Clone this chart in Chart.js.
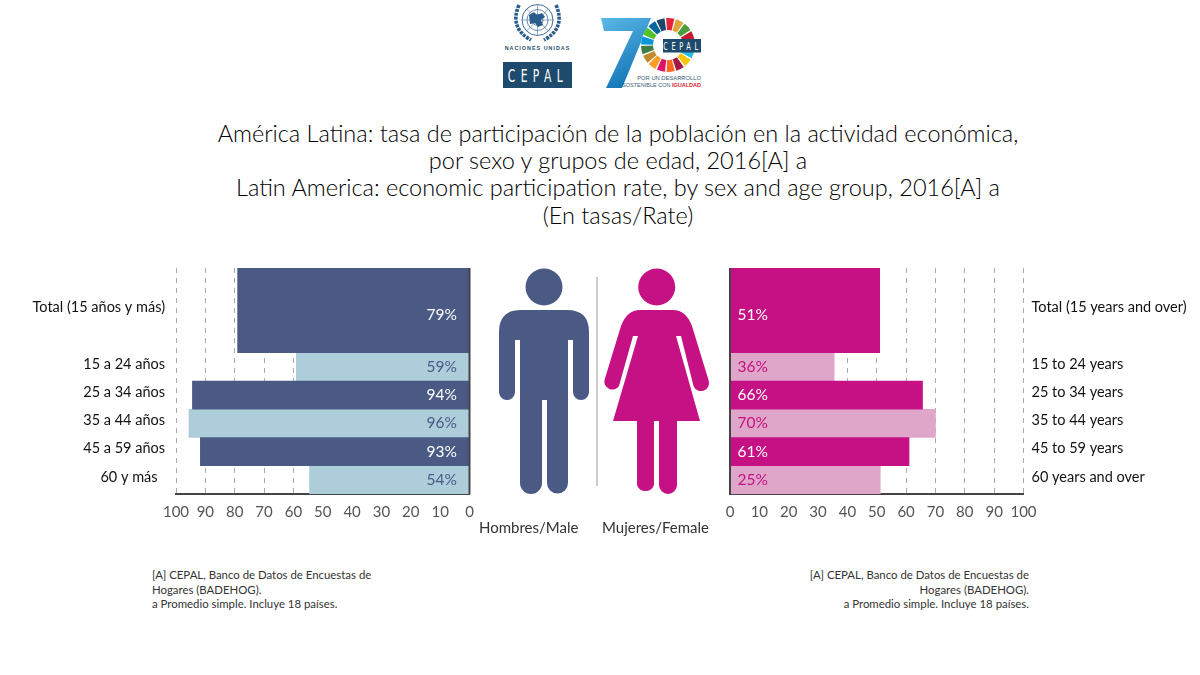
<!DOCTYPE html>
<html>
<head>
<meta charset="utf-8">
<script src="https://cdn.jsdelivr.net/npm/chart.js@4"></script>
<style>
html, body { margin: 0; width: 1200px; height: 675px; overflow: hidden; background: #fff; font-family: Lato, sans-serif; }
.box { position: absolute; }
#title { left: 0; top: 120px; width: 1236px; text-align: center; font-size: 23.5px; font-weight: 300; line-height: 27.2px; color: #000; }
.note { font-size: 11.4px; line-height: 14.5px; color: #333; white-space: pre; }
.sex { font-size: 15px; color: #333; top: 518px; }
svg { position: absolute; left: 0; top: 0; }
</style>
</head>
<body>

<svg id="art" width="1200" height="675" viewBox="0 0 1200 675">
  <!-- UN emblem -->
  <g fill="none" stroke="#2b5d8c">
    <circle cx="537.5" cy="20" r="15.5" stroke-width="0.9"/>
    <circle cx="537.5" cy="20" r="10.5" stroke-width="0.7"/>
    <circle cx="537.5" cy="20" r="5.5" stroke-width="0.7"/>
    <path d="M537.5 4.5V35.5M522 20H553M526.5 9L548.5 31M548.5 9L526.5 31" stroke-width="0.5"/>
    <path d="M519 5Q509 28 531 40M556 5Q566 28 544 40" stroke-width="3.6" stroke-dasharray="3 1"/>
  </g>
  <path d="M529 15l5-3 3 3 5-2 3 4-4 3 2 5-5 2-3-4-5 1z" fill="#2b5d8c"/>
  <text x="537.5" y="50" text-anchor="middle" font-size="5.4" font-weight="700" letter-spacing="1" fill="#29506f" font-family="Liberation Sans">NACIONES UNIDAS</text>
  <rect x="503" y="62" width="69" height="26" fill="#1d4a6d"/>
  <text transform="translate(538,81.5) scale(0.6,1)" text-anchor="middle" font-size="18" letter-spacing="9" fill="#fff" font-family="DejaVu Sans">CEPAL</text>

  <!-- 70 logo -->
  <defs>
    <linearGradient id="seven" x1="0" y1="0" x2="0.4" y2="1">
      <stop offset="0" stop-color="#5cb8e6"/>
      <stop offset="1" stop-color="#1477b8"/>
    </linearGradient>
  </defs>
  <path d="M601 18H651L622 88H606L633 31H604Z" fill="url(#seven)"/>
  <circle cx="668" cy="45" r="27" fill="#fff"/>
  <g id="wheel"></g>
  <rect x="663" y="39" width="38" height="13.5" fill="#1d4a6d"/>
  <text transform="translate(682.5,50) scale(0.6,1)" text-anchor="middle" font-size="11" letter-spacing="6" fill="#fff" font-family="DejaVu Sans">CEPAL</text>
  <text x="701" y="80" text-anchor="end" font-size="5.8" fill="#3d5c78" font-family="Liberation Sans">POR UN DESARROLLO</text>
  <text x="701" y="87" text-anchor="end" font-size="5.5" fill="#3d5c78" font-family="Liberation Sans">SOSTENIBLE CON <tspan fill="#d8232a" font-weight="700">IGUALDAD</tspan></text>

  <!-- Pictograms -->
  <g fill="#4a5a85">
    <circle cx="544" cy="287" r="18.5"/>
    <path d="M521 310H567Q589 310 589 332V392A8 8 0 0 1 573 392V340H568V483A10.5 10.5 0 0 1 547 483V400H542V483A10.5 10.5 0 0 1 520 483V340H515V392A8 8 0 0 1 499 392V332Q499 310 521 310Z"/>
  </g>
  <line x1="597" y1="277" x2="597" y2="486" stroke="#999" stroke-width="1"/>
  <g fill="#c51183">
    <circle cx="656.7" cy="287" r="18.5"/>
    <path d="M640 310H673Q686 310 692 326L708.5 380A8 8 0 0 1 693.5 386L681 336H676L700 421H677V485A9 9 0 0 1 659 485V421H654V485A9 9 0 0 1 637 485V421H613L638 336H633L619 386A8 8 0 0 1 604.5 380L621 326Q627 310 640 310Z"/>
  </g>
</svg>

<div class="box" id="title">América Latina: tasa de participación de la población en la actividad económica,<br>por sexo y grupos de edad, 2016[A] a<br>Latin America: economic participation rate, by sex and age group, 2016[A] a<br>(En tasas/Rate)</div>

<div class="box" style="left:0;top:250px;width:490px;height:280px"><canvas id="menChart" width="490" height="280"></canvas></div>
<div class="box" style="left:700px;top:250px;width:500px;height:280px"><canvas id="womenChart" width="500" height="280"></canvas></div>

<div class="box sex" style="left:479px">Hombres/Male</div>
<div class="box sex" style="left:602px">Mujeres/Female</div>

<div class="box note" style="left:152px;top:568px">[A] CEPAL, Banco de Datos de Encuestas de
Hogares (BADEHOG).
a Promedio simple. Incluye 18 países.</div>
<div class="box note" style="right:171px;top:568px;text-align:right">[A] CEPAL, Banco de Datos de Encuestas de
Hogares (BADEHOG).
a Promedio simple. Incluye 18 países.</div>

<script>
// ── Data ──
const groupsEs = ['Total (15 años y más)', '15 a 24 años', '25 a 34 años', '35 a 44 años', '45 a 59 años', '60 y más  '];
const groupsEn = ['Total (15 years and over)', '15 to 24 years', '25 to 34 years', '35 to 44 years', '45 to 59 years', '60 years and over'];
const menBars = [79, 59, 94.4, 95.6, 91.7, 54.5];
const womenBars = [51, 35.5, 65.6, 70, 61, 51.2];   // the last bar is drawn longer than its 25% label
const menLabels = ['79%', '59%', '94%', '96%', '93%', '54%'];
const womenLabels = ['51%', '36%', '66%', '70%', '61%', '25%'];
const axisTicks = [0, 10, 20, 30, 40, 50, 60, 70, 80, 90, 100];

const colors = {
  navy: '#4a5a85',
  sky: '#aecddb',
  magenta: '#c51183',
  pink: '#dfa6c9',
  grid: '#aaaaaa',
  axis: '#444444',
  text: '#111111',
  tick: '#555555',
};
const FONT = 'Lato, sans-serif';

// ── SDG wheel ──
const wheelColors = ['#e5243b', '#dda63a', '#4c9f38', '#c5192d', '#ff3a21', '#26bde2', '#fcc30b', '#a21942', '#fd6925', '#dd1367', '#fd9d24', '#bf8b2e', '#3f7e44', '#0a97d9', '#56c02b', '#00689d', '#19486a'];
const wheel = document.getElementById('wheel');
wheelColors.forEach((c, i) => {
  const step = 2 * Math.PI / wheelColors.length;
  const a0 = -Math.PI / 2 - 0.1 + i * step + 0.03;
  const a1 = a0 + step - 0.06;
  const pt = (r, a) => `${(668 + r * Math.cos(a)).toFixed(1)} ${(45 + r * Math.sin(a)).toFixed(1)}`;
  const p = document.createElementNS('http://www.w3.org/2000/svg', 'path');
  p.setAttribute('d', `M${pt(15, a0)}L${pt(27, a0)}A27 27 0 0 1 ${pt(27, a1)}L${pt(15, a1)}A15 15 0 0 0 ${pt(15, a0)}Z`);
  p.setAttribute('fill', c);
  wheel.appendChild(p);
});

// ── Rows: Total takes three slots, its label and bar on the middle one ──
const slots = groups => ['', groups[0], '', ...groups.slice(1)];
const pick = (values, keep) => slots(values.map((v, i) => keep(i) ? v : null)).map(v => v === '' ? null : v);

function buildDatasets(values, labels, dark, light, textOnLight) {
  const common = { categoryPercentage: 1, barPercentage: 1, grouped: false };
  return [
    { ...common, data: pick(values, i => i === 0), valueLabels: slots(labels), backgroundColor: dark, labelColor: '#fff', barThickness: 84.75, labelShift: 5 },
    { ...common, data: pick(values, i => i > 0 && i % 2 === 0), valueLabels: slots(labels), backgroundColor: dark, labelColor: '#fff', labelShift: 0 },
    { ...common, data: pick(values, i => i % 2 === 1), valueLabels: slots(labels), backgroundColor: light, labelColor: textOnLight, labelShift: 0 },
  ];
}

// Percent labels sit near the zero line, plus the dark line at zero
const rowDecor = {
  id: 'rowDecor',
  afterDatasetsDraw(chart, args, opts) {
    const { ctx, scales: { x, y } } = chart;
    const zero = x.getPixelForValue(0);
    ctx.save();
    ctx.strokeStyle = colors.axis;
    ctx.lineWidth = 2;
    ctx.beginPath();
    ctx.moveTo(zero, y.top);
    ctx.lineTo(zero, y.bottom);
    ctx.stroke();
    ctx.font = '15.5px ' + FONT;
    ctx.textBaseline = 'middle';
    ctx.textAlign = opts.align;
    chart.data.datasets.forEach((ds, d) => {
      chart.getDatasetMeta(d).data.forEach((bar, i) => {
        if (ds.data[i] === null) return;
        ctx.fillStyle = ds.labelColor;
        ctx.fillText(ds.valueLabels[i], zero + opts.offset, bar.y + ds.labelShift);
      });
    });
    ctx.restore();
  },
};

function makeChart(id, groups, values, labels, dark, light, side) {
  const left = side === 'left';
  return new Chart(document.getElementById(id), {
    type: 'bar',
    data: { labels: slots(groups), datasets: buildDatasets(values, labels, dark, light, left ? colors.navy : colors.magenta) },
    plugins: [rowDecor],
    options: {
      indexAxis: 'y',
      responsive: false,
      animation: false,
      layout: { padding: { top: 18, right: left ? 20.5 : 0, left: left ? 0 : 30 } },
      plugins: {
        legend: { display: false },
        tooltip: { enabled: false },
        rowDecor: { align: left ? 'right' : 'left', offset: left ? -12.5 : 7.5 },
      },
      scales: {
        x: {
          reverse: left,
          min: 0,
          max: 100,
          afterBuildTicks: s => { s.ticks = axisTicks.map(value => ({ value })); },
          afterFit: s => { s.height = 36; },
          grid: { color: colors.grid, lineWidth: 1, drawTicks: false },
          border: { color: colors.axis, width: 2, dash: [5, 5] },
          ticks: { color: colors.tick, font: { family: FONT, size: 15 }, padding: 9, maxRotation: 0, autoSkip: false },
        },
        y: {
          position: left ? 'left' : 'right',
          afterFit: s => { s.width = left ? 176 : 176.5; s.paddingTop = 0; s.paddingBottom = 0; },
          grid: { display: false, drawTicks: false },
          border: { display: false },
          ticks: {
            color: colors.text,
            font: { family: FONT, size: 14.5 },
            padding: left ? 11 : 8,
            autoSkip: false,
            labelOffset: -3,
            callback: (v, i) => slots(groups)[i],
          },
        },
      },
    },
  });
}

makeChart('menChart', groupsEs, menBars, menLabels, colors.navy, colors.sky, 'left');
makeChart('womenChart', groupsEn, womenBars, womenLabels, colors.magenta, colors.pink, 'right');
</script>
</body>
</html>
